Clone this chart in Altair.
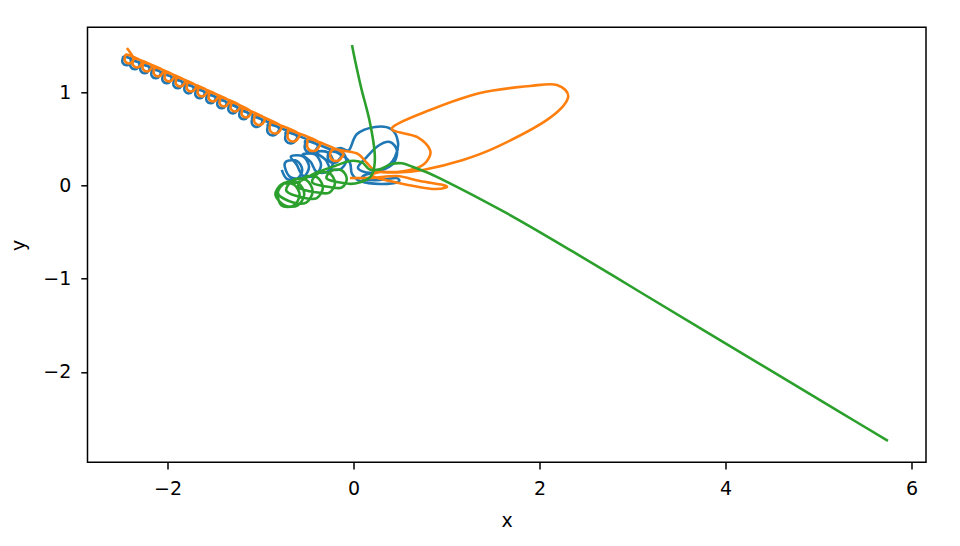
import altair as alt
import pandas as pd

# ---------------- data ----------------
blue_x = [
    # cluster loops (left), drifting right
    -0.772, -0.717, -0.607, -0.552, -0.607, -0.717,
    -0.739, -0.674, -0.544, -0.479, -0.544, -0.674,
    -0.610, -0.545, -0.415, -0.350, -0.415, -0.545,
    -0.460, -0.400, -0.280, -0.220, -0.280, -0.400,
    -0.299, -0.244, -0.134, -0.079, -0.134, -0.244,
    -0.140,
    # big upper loop
    -0.049, 0.037, 0.230, 0.402, 0.477, 0.445, 0.338, 0.176, 0.047,
    # inner loop
    0.133, 0.262, 0.391, 0.467, 0.424, 0.284, 0.123,
    # flat lower loop
    0.101, 0.284, 0.456, 0.477, 0.284, 0.069, -0.017,
    -0.039, -0.125,
    # spiral to the upper left
    -0.236, -0.273, -0.267, -0.209, -0.155, -0.161,
    -0.484, -0.521, -0.515, -0.457, -0.403, -0.409,
    -0.697, -0.731, -0.726, -0.672, -0.623, -0.628,
    -0.890, -0.924, -0.919, -0.865, -0.816, -0.821,
    -1.061, -1.092, -1.087, -1.038, -0.992, -0.997,
    -1.198, -1.225, -1.222, -1.178, -1.139, -1.142,
    -1.316, -1.343, -1.340, -1.296, -1.257, -1.260,
    -1.435, -1.462, -1.459, -1.415, -1.376, -1.379,
    -1.553, -1.580, -1.577, -1.533, -1.494, -1.497,
    -1.671, -1.698, -1.695, -1.651, -1.612, -1.615,
    -1.789, -1.816, -1.813, -1.769, -1.730, -1.733,
    -1.907, -1.934, -1.931, -1.887, -1.848, -1.851,
    -2.026, -2.053, -2.050, -2.006, -1.967, -1.970,
    -2.144, -2.171, -2.168, -2.124, -2.085, -2.088,
    -2.263, -2.290, -2.287, -2.243, -2.204, -2.207,
    -2.370, -2.397, -2.394, -2.350, -2.311, -2.314,
    -2.456, -2.483, -2.480, -2.436, -2.397, -2.400,
]
blue_y = [
    0.169, 0.074, 0.074, 0.169, 0.264, 0.264,
    0.201, 0.088, 0.088, 0.201, 0.314, 0.314,
    0.222, 0.109, 0.109, 0.222, 0.335, 0.335,
    0.255, 0.151, 0.151, 0.255, 0.359, 0.359,
    0.276, 0.181, 0.181, 0.276, 0.371, 0.371,
    0.405,
    0.383, 0.555, 0.631, 0.609, 0.469, 0.308, 0.190, 0.137, 0.190,
    0.298, 0.426, 0.469, 0.373, 0.233, 0.158, 0.115,
    0.072, 0.061, 0.083, 0.040, 0.018, 0.050, 0.126,
    0.244, 0.330,
    0.371, 0.338, 0.273, 0.245, 0.282, 0.347,
    0.478, 0.445, 0.380, 0.352, 0.389, 0.454,
    0.571, 0.540, 0.480, 0.454, 0.488, 0.548,
    0.657, 0.626, 0.566, 0.540, 0.574, 0.634,
    0.738, 0.710, 0.655, 0.631, 0.662, 0.717,
    0.806, 0.782, 0.734, 0.713, 0.740, 0.788,
    0.870, 0.846, 0.798, 0.777, 0.804, 0.852,
    0.924, 0.900, 0.852, 0.831, 0.858, 0.906,
    0.978, 0.954, 0.906, 0.885, 0.912, 0.960,
    1.032, 1.008, 0.960, 0.939, 0.966, 1.014,
    1.085, 1.061, 1.013, 0.992, 1.019, 1.067,
    1.139, 1.115, 1.067, 1.046, 1.073, 1.121,
    1.193, 1.169, 1.121, 1.100, 1.127, 1.175,
    1.247, 1.223, 1.175, 1.154, 1.181, 1.229,
    1.300, 1.276, 1.228, 1.207, 1.234, 1.282,
    1.343, 1.319, 1.271, 1.250, 1.277, 1.325,
    1.386, 1.362, 1.314, 1.293, 1.320, 1.368,
]

orange_x = [
    # lower small loop
    -0.039, 0.198, 0.467, 0.714, 0.961, 0.994, 0.843, 0.585, 0.391, 0.198,
    # medium loop
    0.284, 0.467, 0.682, 0.789, 0.822, 0.682, 0.413,
    # big loop
    0.822, 1.359, 1.897, 2.187, 2.305, 2.080, 1.542, 1.176, 0.746,
    0.467, 0.241, 0.144, 0.047, -0.092,
    # spiral to the upper left
    -0.211, -0.248, -0.242, -0.184, -0.130, -0.136,
    -0.459, -0.496, -0.490, -0.432, -0.378, -0.384,
    -0.672, -0.706, -0.701, -0.647, -0.598, -0.603,
    -0.865, -0.899, -0.894, -0.840, -0.791, -0.796,
    -1.036, -1.067, -1.062, -1.013, -0.967, -0.972,
    -1.173, -1.200, -1.197, -1.153, -1.114, -1.117,
    -1.291, -1.318, -1.315, -1.271, -1.232, -1.235,
    -1.410, -1.437, -1.434, -1.390, -1.351, -1.354,
    -1.528, -1.555, -1.552, -1.508, -1.469, -1.472,
    -1.646, -1.673, -1.670, -1.626, -1.587, -1.590,
    -1.764, -1.791, -1.788, -1.744, -1.705, -1.708,
    -1.882, -1.909, -1.906, -1.862, -1.823, -1.826,
    -2.001, -2.028, -2.025, -1.981, -1.942, -1.945,
    -2.119, -2.146, -2.143, -2.099, -2.060, -2.063,
    -2.238, -2.265, -2.262, -2.218, -2.179, -2.182,
    -2.345, -2.372, -2.369, -2.325, -2.286, -2.289,
    -2.431, -2.458, -2.455, -2.411, -2.372, -2.375,
    -2.437,
]
orange_y = [
    0.083, 0.083, 0.104, 0.050, 0.008, -0.019, -0.035, 0.008, 0.050, 0.104,
    0.147, 0.147, 0.190, 0.265, 0.383, 0.523, 0.620,
    0.813, 0.996, 1.071, 1.082, 0.942, 0.706, 0.416, 0.276, 0.169,
    0.142, 0.158, 0.244, 0.341, 0.373,
    0.391, 0.358, 0.293, 0.265, 0.302, 0.367,
    0.498, 0.465, 0.400, 0.372, 0.409, 0.474,
    0.591, 0.560, 0.500, 0.474, 0.508, 0.568,
    0.677, 0.646, 0.586, 0.560, 0.594, 0.654,
    0.758, 0.730, 0.675, 0.651, 0.682, 0.737,
    0.826, 0.802, 0.754, 0.733, 0.760, 0.808,
    0.890, 0.866, 0.818, 0.797, 0.824, 0.872,
    0.944, 0.920, 0.872, 0.851, 0.878, 0.926,
    0.998, 0.974, 0.926, 0.905, 0.932, 0.980,
    1.052, 1.028, 0.980, 0.959, 0.986, 1.034,
    1.105, 1.081, 1.033, 1.012, 1.039, 1.087,
    1.159, 1.135, 1.087, 1.066, 1.093, 1.141,
    1.213, 1.189, 1.141, 1.120, 1.147, 1.195,
    1.267, 1.243, 1.195, 1.174, 1.201, 1.249,
    1.320, 1.296, 1.248, 1.227, 1.254, 1.302,
    1.363, 1.339, 1.291, 1.270, 1.297, 1.345,
    1.406, 1.382, 1.334, 1.313, 1.340, 1.388,
    1.479,
]

green_x = [
    # descent from the top
    -0.017, 0.015, 0.062, 0.095, 0.130, 0.170, 0.210, 0.228, 0.222, 0.180,
    0.080, -0.050,
    # loops drifting left
    -0.283, -0.231, -0.125, -0.073, -0.125, -0.231,
    -0.440, -0.380, -0.260, -0.200, -0.260, -0.380,
    -0.590, -0.525, -0.395, -0.330, -0.395, -0.525,
    -0.720, -0.650, -0.510, -0.440, -0.510, -0.650,
    -0.810, -0.740, -0.600, -0.530, -0.600, -0.740,
    -0.840, -0.775, -0.645, -0.580, -0.645, -0.775,
    -0.815, -0.753, -0.627,
    # upper arc back to the right
    -0.480, -0.383, -0.200, -0.039, 0.090, 0.170, 0.280, 0.400, 0.520, 0.640,
    # escape to the lower right
    0.929, 1.646, 2.359, 3.080, 3.797, 4.510, 5.230, 5.746,
]
green_y = [
    1.511, 1.350, 1.135, 0.996, 0.867, 0.706, 0.491, 0.330, 0.201, 0.094,
    0.040, 0.020,
    0.072, 0.163, 0.163, 0.072, -0.019, -0.019,
    0.030, 0.134, 0.134, 0.030, -0.074, -0.074,
    -0.020, 0.093, 0.093, -0.020, -0.133, -0.133,
    -0.060, 0.061, 0.061, -0.060, -0.181, -0.181,
    -0.090, 0.031, 0.031, -0.090, -0.211, -0.211,
    -0.100, 0.013, 0.013, -0.100, -0.213, -0.213,
    -0.080, 0.028, 0.028,
    0.100, 0.147, 0.212, 0.265, 0.250, 0.175, 0.175, 0.230, 0.240, 0.200,
    0.079, -0.296, -0.709, -1.142, -1.572, -2.000, -2.432, -2.741,
]

x_ticks = [-2, 0, 2, 4, 6]
y_ticks = [-2, -1, 0, 1]
x_domain = [-2.861, 6.155]
y_domain = [-2.971, 1.701]

series = [
    ("blue", blue_x, blue_y, "#1f77b4"),
    ("orange", orange_x, orange_y, "#ff7f0e"),
    ("green", green_x, green_y, "#2ca02c"),
]

FONT = "DejaVu Sans"

x_axis = alt.Axis(values=x_ticks, grid=False, domain=False, tickSize=6.7, tickWidth=1.5,
                  tickColor="black", labelColor="black", labelFont=FONT, labelFontSize=19,
                  labelPadding=11, labelBaseline="top", title="x", titleFont=FONT,
                  titleFontSize=19, titleFontWeight="normal", titleColor="black",
                  titleY=58.7, titleBaseline="middle")
y_axis = alt.Axis(values=y_ticks, grid=False, domain=False, tickSize=6.7, tickWidth=1.5,
                  tickColor="black", labelColor="black", labelFont=FONT, labelFontSize=19,
                  labelPadding=10, labelBaseline="middle", title="y", titleFont=FONT,
                  titleFontSize=19, titleFontWeight="normal", titleColor="black",
                  titleX=-69, titleBaseline="middle")

layers = []
for name, xs, ys, col in series:
    df = pd.DataFrame({"x": xs, "y": ys, "i": list(range(len(xs)))})
    layer = alt.Chart(df).mark_line(
        interpolate="cardinal", tension=0, strokeWidth=2.6, strokeJoin="round", clip=True
    ).encode(
        x=alt.X("x:Q", scale=alt.Scale(domain=x_domain, nice=False, zero=False), axis=x_axis),
        y=alt.Y("y:Q", scale=alt.Scale(domain=y_domain, nice=False, zero=False), axis=y_axis),
        order=alt.Order("i:Q"),
        color=alt.value(col),
    )
    layers.append(layer)

chart = alt.layer(*layers).properties(
    width=838.5,
    height=435,
    background="white",
    padding={"left": 79.5, "top": 19.3, "right": 20, "bottom": 70},
    autosize=alt.AutoSizeParams(type="none"),
).configure_view(stroke="black", strokeWidth=1.5)

chart.save("out.html", embed_options={"renderer": "svg", "actions": False})
